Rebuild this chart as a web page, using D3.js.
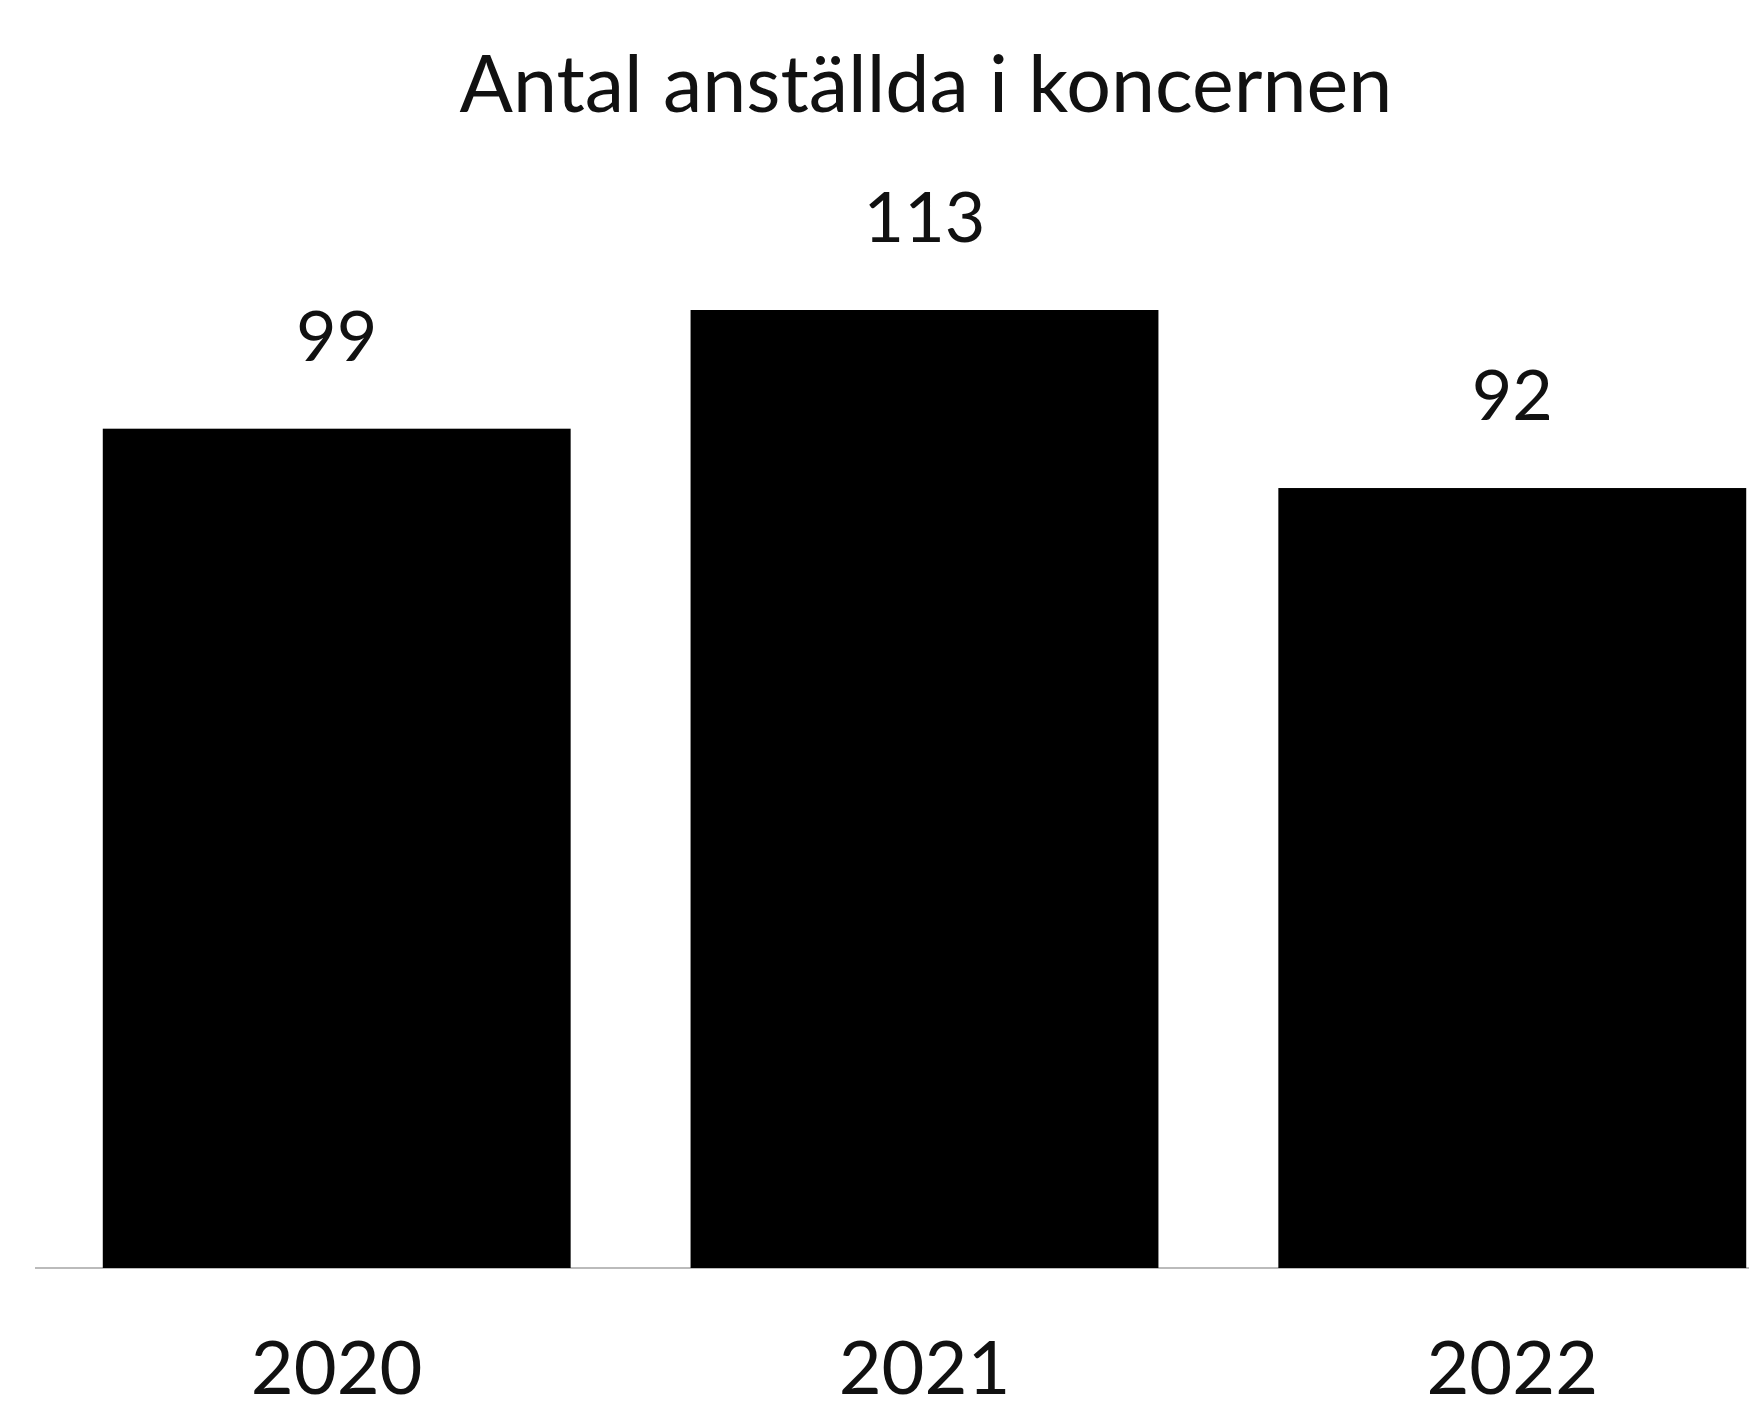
<!DOCTYPE html>
<html>
<head>
<meta charset="utf-8">
<script src="https://cdn.jsdelivr.net/npm/d3@7"></script>
<style>
  html, body { margin: 0; padding: 0; background: #fff; }
  svg { display: block; }
  text { font-family: Lato, "Open Sans", sans-serif; fill: #111; }
</style>
</head>
<body>
<script>
const years = ['2020', '2021', '2022'];
const employees = [99, 113, 92];
const title = 'Antal anställda i koncernen';

const width = 1749;
const height = 1412;
const baseline = 1268;

const svg = d3.select('body').append('svg')
    .attr('width', width)
    .attr('height', height);

// bands: bar width ~467, step ~587
const x = d3.scaleBand()
    .domain(years)
    .range([44, 1805])
    .paddingInner(0.204)
    .paddingOuter(0.1);

const y = d3.scaleLinear()
    .domain([0, 113])
    .range([baseline, 310]);

// faint axis line, only visible between the bars
svg.append('line')
    .attr('x1', 35).attr('x2', width)
    .attr('y1', baseline).attr('y2', baseline)
    .attr('stroke', '#bbb')
    .attr('stroke-width', 2);

svg.selectAll('rect.bar')
    .data(employees)
    .enter().append('rect')
        .attr('class', 'bar')
        .attr('x', (d, i) => x(years[i]))
        .attr('y', d => y(d))
        .attr('width', x.bandwidth())
        .attr('height', d => baseline - y(d))
        .attr('fill', '#000');

svg.selectAll('text.value')
    .data(employees)
    .enter().append('text')
        .attr('class', 'value')
        .attr('x', (d, i) => x(years[i]) + x.bandwidth() / 2)
        .attr('y', d => y(d) - 68)
        .attr('text-anchor', 'middle')
        .attr('font-size', 70)
        .text(d => d);

svg.selectAll('text.year')
    .data(years)
    .enter().append('text')
        .attr('class', 'year')
        .attr('x', d => x(d) + x.bandwidth() / 2)
        .attr('y', 1394)
        .attr('text-anchor', 'middle')
        .attr('font-size', 74)
        .text(d => d);

svg.append('text')
    .attr('x', 926)
    .attr('y', 112)
    .attr('text-anchor', 'middle')
    .attr('font-size', 79)
    .text(title);
</script>
</body>
</html>
